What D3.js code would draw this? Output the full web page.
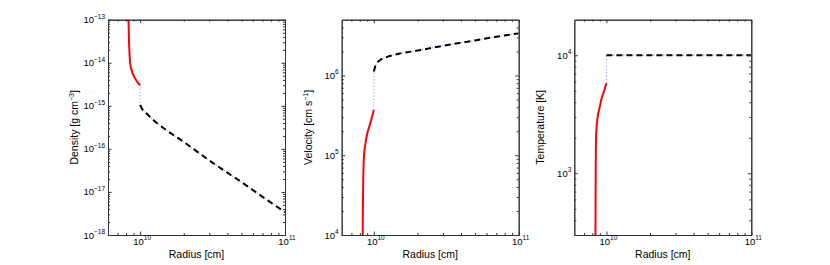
<!DOCTYPE html>
<html>
<head>
<meta charset="utf-8">
<script src="https://cdn.jsdelivr.net/npm/d3@7"></script>
<style>
  body { margin: 0; background: #fff; }
  text { font-family: "Liberation Sans", Arial, Helvetica, sans-serif; fill: #000; }
</style>
</head>
<body>
<div id="chart"></div>
<script>
// radius grid for the inner (red) and outer (black) solutions, cm
const innerRhoR = [8.3e9, 8.36e9, 8.42e9, 8.53e9, 8.75e9, 9.1e9, 9.5e9, 1e10];
const innerRho  = [1.3e-13, 4e-14, 2e-14, 1e-14, 6.5e-15, 4.7e-15, 3.7e-15, 3e-15];
const innerVelR = [8.37e9, 8.4e9, 8.45e9, 8.56e9, 8.75e9, 9.0e9, 9.5e9, 1e10];
const innerVel  = [8e3, 2e4, 5e4, 1e5, 1.4e5, 1.85e5, 2.6e5, 3.7e5];
const innerTempR = [8.39e9, 8.4e9, 8.43e9, 8.5e9, 8.7e9, 9.0e9, 9.2e9, 9.6e9, 1e10];
const innerTemp  = [250, 300, 1000, 2200, 3000, 3660, 4170, 4900, 5800];

const outerR    = [1e10, 1.03e10, 1.1e10, 1.25e10, 1.5e10, 2e10, 3e10, 5e10, 7e10, 1e11];
const outerRho  = [1.05e-15, 8.6e-16, 6.8e-16, 4.5e-16, 2.8e-16, 1.45e-16, 5.4e-17, 1.7e-17, 7.7e-18, 3.4e-18];
const outerVel  = [1.12e6, 1.35e6, 1.55e6, 1.72e6, 1.88e6, 2.05e6, 2.35e6, 2.75e6, 3.05e6, 3.37e6];
const outerTemp = [1e4, 1e4, 1e4, 1e4, 1e4, 1e4, 1e4, 1e4, 1e4, 1e4];

const xMajor = [1e10, 1e11];
const panels = [
  { label: "Density [g cm", sup: "\u22123", tail: "]", yDomain: [1e-18, 1e-13],
    yMajor: [1e-18, 1e-17, 1e-16, 1e-15, 1e-14, 1e-13], exps: ["\u221218", "\u221217", "\u221216", "\u221215", "\u221214", "\u221213"],
    innerR: innerRhoR, inner: innerRho, outer: outerRho },
  { label: "Velocity [cm s", sup: "\u22121", tail: "]", yDomain: [1e4, 5e6],
    yMajor: [1e4, 1e5, 1e6], exps: ["4", "5", "6"],
    innerR: innerVelR, inner: innerVel, outer: outerVel },
  { label: "Temperature [K]", sup: "", tail: "", yDomain: [300, 2e4],
    yMajor: [1e3, 1e4], exps: ["3", "4"],
    innerR: innerTempR, inner: innerTemp, outer: outerTemp }
];

const W = 830, H = 265;
const lefts = [108, 341.7, 574.3];
const pw = 177, plotTop = 19.7, plotBottom = 235;

const svg = d3.select("#chart").append("svg").attr("width", W).attr("height", H);

function minors(lo, hi) {
  const out = [];
  for (let e = Math.floor(Math.log10(lo)); e <= Math.ceil(Math.log10(hi)); e++) {
    for (let k = 2; k <= 9; k++) {
      const v = k * Math.pow(10, e);
      if (v > lo && v < hi) out.push(v);
    }
  }
  return out;
}

panels.forEach((p, i) => {
  const x = d3.scaleLog().domain([6e9, 1e11]).range([lefts[i], lefts[i] + pw]);
  const y = d3.scaleLog().domain(p.yDomain).range([plotBottom, plotTop]);
  const g = svg.append("g");

  g.append("clipPath").attr("id", "clip" + i)
    .append("rect").attr("x", lefts[i]).attr("y", plotTop).attr("width", pw).attr("height", plotBottom - plotTop);

  const plot = g.append("g").attr("clip-path", "url(#clip" + i + ")");
  const line = d3.line().x(d => x(d[0])).y(d => y(d[1])).curve(d3.curveMonotoneX);

  const innerPts = p.innerR.map((r, j) => [r, p.inner[j]]);
  const outerPts = outerR.map((r, j) => [r, p.outer[j]]);
  const jumpPts = [[1e10, p.inner[p.inner.length - 1]], [1e10, p.outer[0]]];

  plot.append("path").attr("d", line(innerPts))
    .attr("fill", "none").attr("stroke", "#ff0000").attr("stroke-width", 2);
  plot.append("path").attr("d", d3.line().x(d => x(d[0])).y(d => y(d[1]))(jumpPts))
    .attr("fill", "none").attr("stroke", "#6f86ff").attr("stroke-width", 1)
    .attr("stroke-dasharray", "1,2.3");
  plot.append("path").attr("d", line(outerPts))
    .attr("fill", "none").attr("stroke", "#6f86ff").attr("stroke-width", 1)
    .attr("stroke-dasharray", "5,2,1,2");
  plot.append("path").attr("d", line(outerPts))
    .attr("fill", "none").attr("stroke", "#000").attr("stroke-width", 2)
    .attr("stroke-dasharray", "6,4");

  // axes with inward ticks on all four sides
  const mx = minors(6e9, 1e11), my = minors(p.yDomain[0], p.yDomain[1]);
  const axes = [
    [d3.axisBottom(x).tickValues(xMajor), `translate(0,${plotBottom})`, 3.5],
    [d3.axisBottom(x).tickValues(mx), `translate(0,${plotBottom})`, 2],
    [d3.axisTop(x).tickValues(xMajor), `translate(0,${plotTop})`, 3.5],
    [d3.axisTop(x).tickValues(mx), `translate(0,${plotTop})`, 2],
    [d3.axisLeft(y).tickValues(p.yMajor), `translate(${lefts[i]},0)`, 3.5],
    [d3.axisLeft(y).tickValues(my), `translate(${lefts[i]},0)`, 2],
    [d3.axisRight(y).tickValues(p.yMajor), `translate(${lefts[i] + pw},0)`, 3.5],
    [d3.axisRight(y).tickValues(my), `translate(${lefts[i] + pw},0)`, 2]
  ];
  axes.forEach(([ax, tr, len]) => {
    const a = g.append("g").attr("transform", tr)
      .call(ax.tickSizeInner(-len).tickSizeOuter(0).tickFormat(""));
    a.select(".domain").attr("stroke", "#333");
    a.selectAll(".tick line").attr("stroke", "#333");
  });

  // tick labels 10^n
  const xl = g.selectAll(".xl").data(xMajor).enter().append("text")
    .attr("x", d => x(d) + 2).attr("y", plotBottom + 9.5)
    .attr("text-anchor", "middle").attr("font-size", 9.5);
  xl.append("tspan").text("10");
  xl.append("tspan").attr("dy", -4.5).attr("font-size", 6.5).text(d => String(Math.round(Math.log10(d))));

  const yl = g.selectAll(".yl").data(p.yMajor).enter().append("text")
    .attr("x", lefts[i] - 3).attr("y", d => y(d) + 3.5)
    .attr("text-anchor", "end").attr("font-size", 9.5);
  yl.append("tspan").text("10");
  yl.append("tspan").attr("dy", -4.5).attr("font-size", 6.5).text((d, j) => p.exps[j]);

  g.append("text").attr("x", lefts[i] + pw / 2).attr("y", 258)
    .attr("text-anchor", "middle").attr("font-size", 10.5).text("Radius [cm]");

  const yt = g.append("text")
    .attr("transform", `translate(${lefts[i] - 30},${(plotTop + plotBottom) / 2}) rotate(-90)`)
    .attr("text-anchor", "middle").attr("font-size", 10.5);
  yt.append("tspan").text(p.label);
  if (p.sup) {
    yt.append("tspan").attr("dy", -4).attr("font-size", 7).text(p.sup);
    yt.append("tspan").attr("dy", 4).text(p.tail);
  }
});
</script>
</body>
</html>
